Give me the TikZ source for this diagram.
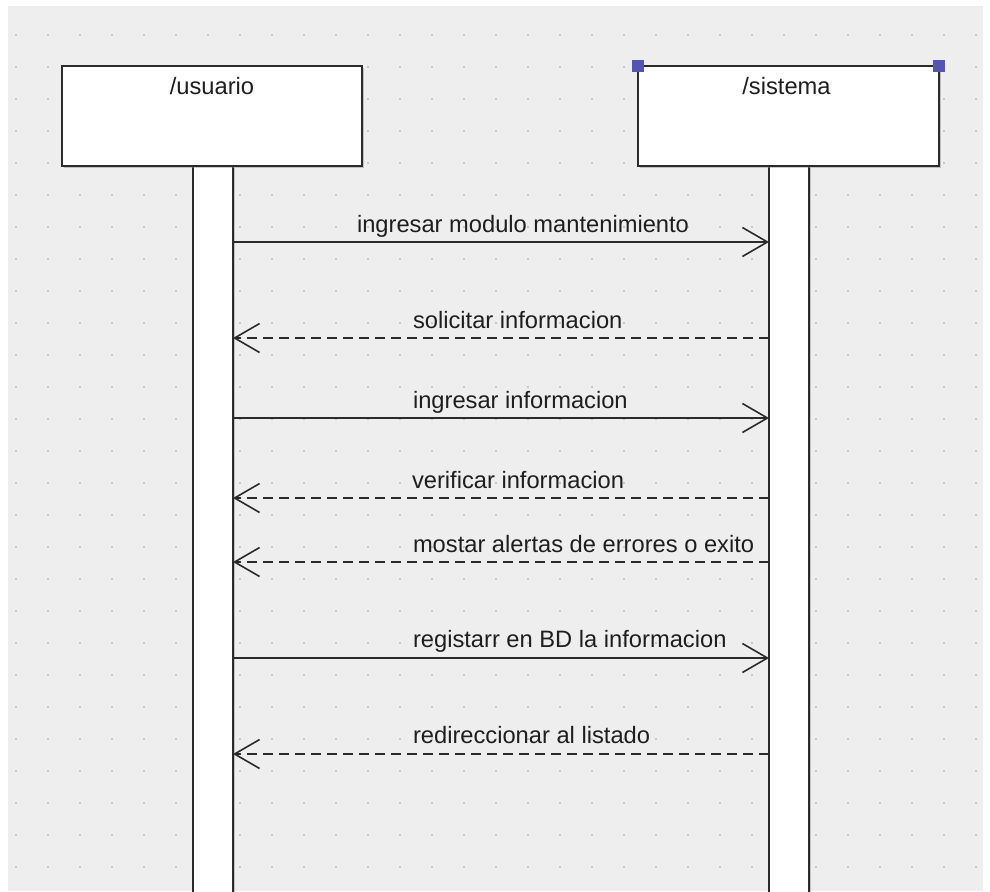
\documentclass[tikz,border=0pt]{standalone}
\usepackage{fontspec}
\setmainfont{Liberation Sans}
\usetikzlibrary{arrows.meta,shadows}

\definecolor{canvas}{HTML}{EEEEEE}
\definecolor{griddot}{HTML}{C6C6C6}
\definecolor{ink}{HTML}{2B2B2B}
\definecolor{txt}{HTML}{1E1E1E}
\definecolor{handle}{HTML}{5454B2}

\begin{document}
\begin{tikzpicture}[x=1pt,y=-1pt,
  every node/.style={inner sep=0pt, outer sep=0pt},
  boxshadow/.style={drop shadow={shadow xshift=2pt, shadow yshift=-2pt, fill=black!45, opacity=0.45}},
  header/.style={draw=ink, line width=1.6pt, fill=white, boxshadow,
    minimum width=300pt, minimum height=100pt, anchor=north west},
  lifebar/.style={draw=ink, line width=1.6pt, fill=white, boxshadow,
    minimum width=40pt, minimum height=740pt, anchor=north west},
  handlesq/.style={fill=handle, minimum size=12pt},
  heading/.style={anchor=base, font=\fontsize{23.7}{28}\selectfont, text=txt},
  msgtext/.style={anchor=base west, font=\fontsize{23.7}{28}\selectfont, text=txt},
  call/.style={draw=ink, line width=1.6pt,
    -{Straight Barb[length=25pt,width=29pt,line width=1.6pt]}},
  reply/.style={call, dash pattern=on 10pt off 6pt},
]
\useasboundingbox (0,0) rectangle (990,891);
\clip (0,0) rectangle (990,891);

% canvas and dotted grid
\fill[canvas] (8,6) rectangle (983,891);
\foreach \gx in {16,48,...,976}
  \foreach \gy in {35,67,...,867}
    \fill[griddot] (\gx-1.1,\gy-1.1) rectangle +(2.2,2.2);

% lifelines
\node[lifebar] (ubar) at (193,166) {};
\node[lifebar] (sbar) at (769,166) {};

% participant heads
\node[header] (usuario) at (62,66) {};
\node[header, minimum width=301pt] (sistema) at (638,66) {};
\node[heading] (usuario-name) at ([yshift=-28pt]usuario.north) {/usuario};
\node[heading] (sistema-name) at ([xshift=-2pt,yshift=-28pt]sistema.north) {/sistema};

% selection handles on the system head
\node[handlesq] (hnw) at (sistema.north west) {};
\node[handlesq] (hne) at (sistema.north east) {};

% message rows
\coordinate (m1) at (0,242);
\coordinate (m2) at (0,338);
\coordinate (m3) at (0,418);
\coordinate (m4) at (0,498);
\coordinate (m5) at (0,562);
\coordinate (m6) at (0,658);
\coordinate (m7) at (0,754);

\draw[call]  (ubar.east |- m1) -- (sbar.west |- m1);
\draw[reply] (sbar.west |- m2) -- (ubar.east |- m2);
\draw[call]  (ubar.east |- m3) -- (sbar.west |- m3);
\draw[reply] (sbar.west |- m4) -- (ubar.east |- m4);
\draw[reply] (sbar.west |- m5) -- (ubar.east |- m5);
\draw[call]  (ubar.east |- m6) -- (sbar.west |- m6);
\draw[reply] (sbar.west |- m7) -- (ubar.east |- m7);

% message labels
\node[msgtext] (t1) at (357,232) {ingresar modulo mantenimiento};
\node[msgtext] (t2) at (413,328) {solicitar informacion};
\node[msgtext] (t3) at (413,408) {ingresar informacion};
\node[msgtext] (t4) at (412,488) {verificar informacion};
\node[msgtext] (t5) at (413,552) {mostar alertas de errores o exito};
\node[msgtext] (t6) at (413,647) {registarr en BD la informacion};
\node[msgtext] (t7) at (413,743) {redireccionar al listado};
\end{tikzpicture}
\end{document}
